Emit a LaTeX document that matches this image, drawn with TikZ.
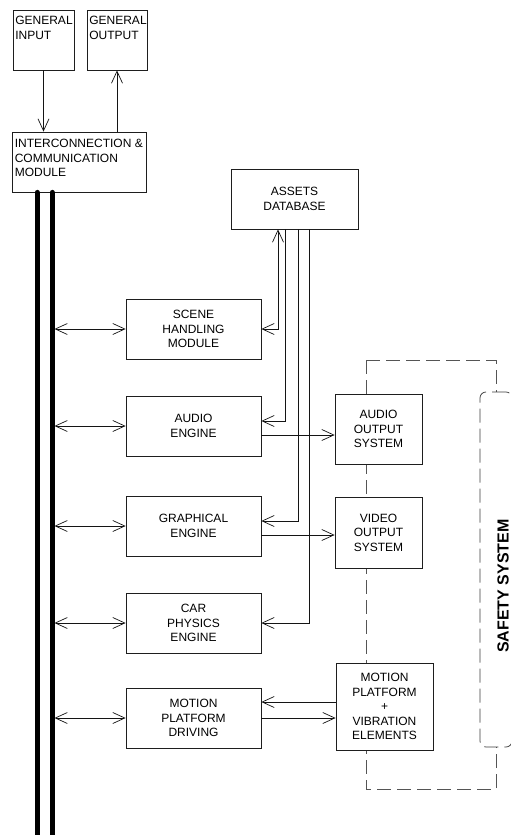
\documentclass[tikz,border=0pt]{standalone}
\usepackage{fontspec}
\setmainfont{Liberation Sans}
\usetikzlibrary{arrows.meta,positioning}
\tikzset{
  blockbox/.style={draw={rgb,255:red,30;green,30;blue,30},fill=white,line width=0.75pt,align=center,inner sep=0pt,font=\fontsize{12}{14.5}\selectfont},
  enginebox/.style={blockbox,minimum width=135pt,minimum height=60pt},
  cornertext/.style={inner xsep=2.5pt,inner ysep=6.5pt,align=left,anchor=north west,font=\fontsize{12}{14.5}\selectfont},
  link/.style={draw={rgb,255:red,20;green,20;blue,20},line width=0.7pt,arrows={-Straight Barb[length=12pt,width=11pt]}},
  twoway/.style={link,arrows={Straight Barb[length=12pt,width=11pt]-Straight Barb[length=12pt,width=11pt]}},
  busline/.style={draw=black,line width=5pt,line cap=round},
  guardline/.style={draw={rgb,255:red,85;green,85;blue,85},line width=0.75pt,dash pattern=on 14pt off 6pt},
  safebox/.style={draw={rgb,255:red,60;green,60;blue,60},line width=0.75pt,dash pattern=on 14pt off 6pt,rounded corners=6pt,minimum width=32pt,minimum height=355pt,inner sep=0pt}
}
\begin{document}
\begin{tikzpicture}[x=1pt,y=-1pt]
\path[use as bounding box,fill=white] (0,0) rectangle (511,835);
\coordinate (busa) at (37,835);
\coordinate (busb) at (52,835);
\coordinate (tap) at (54.5,0);
\coordinate (lt) at (366,360);
\coordinate (rt) at (496,360);
\coordinate (lb) at (366,789);
\coordinate (rb) at (496,789);
% dashed safety loop
\draw[guardline] (lt) -- (rt) -- (496,392);
\draw[guardline] (lt) -- (lb) -- (rb) -- (496,747);
\node[safebox] (safe) at (496,569.5) {};
\node[rotate=90,inner sep=0pt,font=\bfseries\fontsize{16}{19}\selectfont] (safetext) at (503,586) {SAFETY SYSTEM};
% general in / out
\node[blockbox,minimum width=61pt,minimum height=60pt,label={[cornertext]north west:GENERAL\\INPUT}] (gi) at (43.5,40) {};
\node[blockbox,minimum width=60pt,minimum height=60pt,label={[cornertext]north west:GENERAL\\OUTPUT}] (go) at (117,40) {};
\node[blockbox,minimum width=134pt,minimum height=60pt,label={[cornertext,inner xsep=3pt,inner ysep=7.3pt]north west:INTERCONNECTION \&\\COMMUNICATION\\MODULE}] (icm) at (79,162) {};
\draw[link] (gi.south) -- (gi.south |- icm.north);
\draw[link] (icm.north -| go.south) -- (go.south);
\draw[busline] (busa |- icm.south) -- (busa);
\draw[busline] (busb |- icm.south) -- (busb);
% modules
\node[blockbox,minimum width=127pt,minimum height=60pt] (assets) at (294.5,199) {ASSETS\\DATABASE};
\node[enginebox] (scene) at (193.5,329) {SCENE\\HANDLING\\MODULE};
\node[enginebox] (audio) at (193.5,426) {AUDIO\\ENGINE};
\node[enginebox] (graph) at (193.5,526) {GRAPHICAL\\ENGINE};
\node[enginebox] (car) at (193.5,623) {CAR\\PHYSICS\\ENGINE};
\node[enginebox] (mpd) at (193.5,718) {MOTION\\PLATFORM\\DRIVING};
\node[blockbox,minimum width=87pt,minimum height=70pt] (ao) at (378.5,429) {AUDIO\\OUTPUT\\SYSTEM};
\node[blockbox,minimum width=87pt,minimum height=71pt] (vo) at (378.5,532.5) {VIDEO\\OUTPUT\\SYSTEM};
\node[blockbox,minimum width=97pt,minimum height=87pt] (mpv) at (384.5,706.5) {MOTION\\PLATFORM\\+\\VIBRATION\\ELEMENTS};
% bus taps
\foreach \m in {scene,audio,graph,car,mpd}
  \draw[twoway] (tap |- \m.west) -- (\m.west);
% assets feeds
\draw[twoway] (scene.east) -| ([xshift=-16.5pt]assets.south);
\draw[link] ([xshift=-9.5pt]assets.south) |- ([yshift=5pt]audio.east);
\draw[link] ([xshift=3.5pt]assets.south) |- ([yshift=5pt]graph.east);
\draw[link] ([xshift=14.5pt]assets.south) |- (car.east);
% outputs
\draw[link] ([yshift=-9pt]audio.east) -- ([yshift=-9pt]audio.east -| ao.west);
\draw[link] ([yshift=-9pt]graph.east) -- ([yshift=-9pt]graph.east -| vo.west);
\draw[link] ([yshift=16pt]mpd.east -| mpv.west) -- ([yshift=16pt]mpd.east);
\draw[link] (mpd.east) -- (mpd.east -| mpv.west);
\end{tikzpicture}
\end{document}
